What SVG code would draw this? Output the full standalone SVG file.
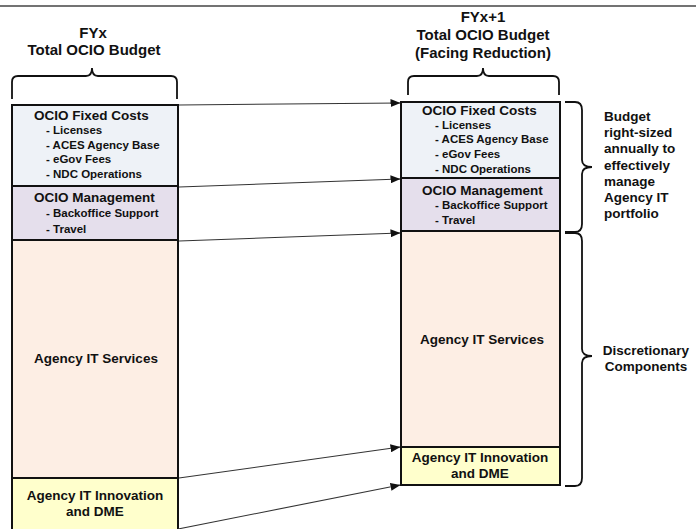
<svg xmlns="http://www.w3.org/2000/svg" width="696" height="529" viewBox="0 0 696 529">
<style>
text{font-family:"Liberation Sans",Arial,sans-serif;font-weight:bold;fill:#111}
.t{font-size:15px;text-anchor:middle}
.h{font-size:13.5px}
.c{font-size:13.5px;text-anchor:middle}
.i{font-size:11.5px}
.n{font-size:13.5px}
.box{stroke:#111;stroke-width:2}
.br{fill:none;stroke:#111;stroke-width:1.8}
.ln{stroke:#333;stroke-width:1.1;fill:none}
</style>
<defs>
<marker id="ah" markerUnits="userSpaceOnUse" markerWidth="10" markerHeight="8" refX="9.5" refY="4" orient="auto"><path d="M0,0 L10,4 L0,8 Z" fill="#111"/></marker>
</defs>
<rect width="696" height="529" fill="#fff"/>
<line x1="0" y1="6" x2="696" y2="6" stroke="#444" stroke-width="1.5"/>
<g id="titles">
<text class="t" x="93" y="38">FYx</text>
<text class="t" x="94" y="55">Total OCIO Budget</text>
<text class="t" x="483" y="22">FYx+1</text>
<text class="t" x="483" y="40">Total OCIO Budget</text>
<text class="t" x="483" y="58">(Facing Reduction)</text>
</g>
<g id="brackets">
<path class="br" d="M12,99 V82 Q12,76 18,76 H86 Q92,76 92,68 Q92,76 98,76 H171 Q177,76 177,82 V99"/>
<path class="br" d="M408,95 V82 Q408,76 414,76 H477 Q483,76 483,68 Q483,76 489,76 H553 Q559,76 559,82 V95"/>
<path class="br" d="M565,102 H575 Q582,102 582,110 V160 Q582,167 592,167 Q582,167 582,174 V224 Q582,232 575,232 H565"/>
<path class="br" d="M565,233 H575 Q582,233 582,241 V349 Q582,356 592,356 Q582,356 582,363 V478 Q582,486 575,486 H565"/>
</g>
<g id="left-fixed">
<rect class="box" x="12" y="105" width="166" height="81" fill="#EEF2F7"/>
<text class="h" x="34" y="120">OCIO Fixed Costs</text>
<text class="i" x="46" y="134">- Licenses</text>
<text class="i" x="46" y="149">- ACES Agency Base</text>
<text class="i" x="46" y="163">- eGov Fees</text>
<text class="i" x="46" y="178">- NDC Operations</text>
</g>
<g id="left-mgmt">
<rect class="box" x="12" y="186" width="166" height="54" fill="#E5DFEC"/>
<text class="h" x="34" y="202">OCIO Management</text>
<text class="i" x="46" y="217">- Backoffice Support</text>
<text class="i" x="46" y="233">- Travel</text>
</g>
<g id="left-services">
<rect class="box" x="12" y="240" width="166" height="238" fill="#FDEEE4"/>
<text class="c" x="96" y="363">Agency IT Services</text>
</g>
<g id="left-innov">
<rect class="box" x="12" y="478" width="166" height="60" fill="#FFFFCC"/>
<text class="c" x="95" y="500">Agency IT Innovation</text>
<text class="c" x="95" y="516">and DME</text>
</g>
<g id="right-fixed">
<rect class="box" x="401" y="102" width="159" height="76" fill="#EEF2F7"/>
<text class="h" x="422" y="115">OCIO Fixed Costs</text>
<text class="i" x="435" y="129">- Licenses</text>
<text class="i" x="435" y="143">- ACES Agency Base</text>
<text class="i" x="435" y="158">- eGov Fees</text>
<text class="i" x="435" y="173">- NDC Operations</text>
</g>
<g id="right-mgmt">
<rect class="box" x="401" y="178" width="159" height="53" fill="#E5DFEC"/>
<text class="h" x="422" y="195">OCIO Management</text>
<text class="i" x="435" y="209">- Backoffice Support</text>
<text class="i" x="435" y="224">- Travel</text>
</g>
<g id="right-services">
<rect class="box" x="401" y="231" width="159" height="216" fill="#FDEEE4"/>
<text class="c" x="482" y="344">Agency IT Services</text>
</g>
<g id="right-innov">
<rect class="box" x="401" y="447" width="159" height="38" fill="#FFFFCC"/>
<text class="c" x="480" y="462">Agency IT Innovation</text>
<text class="c" x="480" y="478">and DME</text>
</g>
<g id="notes">
<text class="n" x="604" y="121">Budget</text>
<text class="n" x="604" y="137">right-sized</text>
<text class="n" x="604" y="153">annually to</text>
<text class="n" x="604" y="170">effectively</text>
<text class="n" x="604" y="186">manage</text>
<text class="n" x="604" y="202">Agency IT</text>
<text class="n" x="604" y="218">portfolio</text>
<text class="c" x="646" y="355">Discretionary</text>
<text class="c" x="646" y="371">Components</text>
</g>
<g id="connectors">
<line class="ln" x1="179" y1="105" x2="400" y2="103" marker-end="url(#ah)"/>
<line class="ln" x1="179" y1="187" x2="400" y2="179" marker-end="url(#ah)"/>
<line class="ln" x1="179" y1="241" x2="400" y2="233" marker-end="url(#ah)"/>
<line class="ln" x1="179" y1="478" x2="400" y2="447" marker-end="url(#ah)"/>
<line class="ln" x1="178" y1="529" x2="400" y2="485" marker-end="url(#ah)"/>
</g>
</svg>
